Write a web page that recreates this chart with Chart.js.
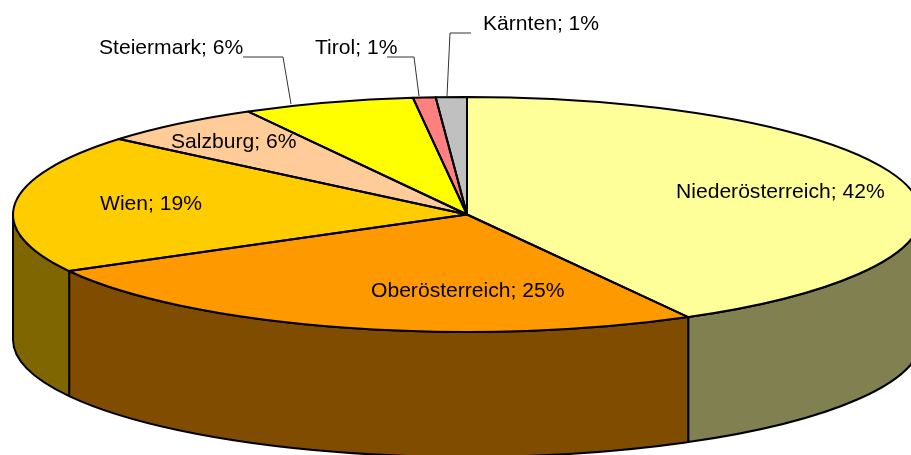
<!DOCTYPE html>
<html><head><meta charset="utf-8">
<script src="https://cdn.jsdelivr.net/npm/chart.js@4/dist/chart.umd.js"></script>
<style>html,body{margin:0;padding:0;background:#fff}canvas{display:block}</style>
</head><body><canvas id="c" width="911" height="455"></canvas>
<script>
const categories = ["Niederösterreich","Oberösterreich","Wien","Salzburg","Steiermark","Tirol","Kärnten"];
const shares = [41.9,25.1,19.1,5.9,6.1,0.8,1.1];
const topColors = ["#FFFF99","#FF9900","#FFCC00","#FFCC99","#FFFF00","#FF8080","#C0C0C0"];
const wallColors = ["#808050","#804D00","#806600","#806633","#808000","#804040","#606060"];
const labelLayout = [
  {x:676,y:198},{x:371,y:297},{x:100,y:210},{x:171,y:148},{x:99,y:54},{x:315,y:54},{x:483,y:30}
];
const leaders = {
  4:[[243,57],[283,57],[291,104]],
  5:[[387,57],[414,57],[419,96]],
  6:[[471,33],[450,33],[447,96]]
};
const view = {cx:467, cy:214.5, rx:454, ry:117.5, depth:125};

function squash(ctx, arc){
  ctx.translate(view.cx, view.cy);
  ctx.scale(view.rx/arc.outerRadius, view.ry/arc.outerRadius);
  ctx.translate(-arc.x, -arc.y);
}
const pie3d = {
  id:'pie3d',
  beforeDatasetsDraw(chart){
    const ctx = chart.ctx, arcs = chart.getDatasetMeta(0).data;
    ctx.lineJoin='round';
    arcs.forEach((arc,i)=>{
      const a=Math.max(arc.startAngle,0), b=Math.min(arc.endAngle,Math.PI);
      if(b<=a) return;
      const r=arc.outerRadius, d=view.depth*r/view.ry;
      ctx.save();
      squash(ctx,arc);
      ctx.beginPath();
      ctx.arc(arc.x,arc.y,r,a,b);
      ctx.arc(arc.x,arc.y+d,r,b,a,true);
      ctx.closePath();
      ctx.restore();
      ctx.fillStyle=wallColors[i];
      ctx.fill();
      ctx.strokeStyle='#000';ctx.lineWidth=2;
      ctx.stroke();
    });
    const first=arcs[0];
    ctx.save();
    squash(ctx,first);
  },
  afterDatasetsDraw(chart){
    const ctx = chart.ctx, arcs = chart.getDatasetMeta(0).data;
    ctx.restore();
    arcs.forEach(arc=>{
      ctx.save();
      squash(ctx,arc);
      ctx.beginPath();
      ctx.moveTo(arc.x,arc.y);
      ctx.arc(arc.x,arc.y,arc.outerRadius,arc.startAngle,arc.endAngle);
      ctx.closePath();
      ctx.restore();
      ctx.strokeStyle='#000';ctx.lineWidth=2;ctx.lineJoin='round';
      ctx.stroke();
    });
    ctx.strokeStyle='#333';ctx.lineWidth=1;
    Object.values(leaders).forEach(pts=>{
      ctx.beginPath();
      pts.forEach((p,k)=>k?ctx.lineTo(p[0],p[1]):ctx.moveTo(p[0],p[1]));
      ctx.stroke();
    });
    ctx.fillStyle='#000';
    ctx.font='21.1px "Liberation Sans", Arial, sans-serif';
    ctx.textBaseline='alphabetic';ctx.textAlign='left';
    categories.forEach((name,i)=>{
      ctx.fillText(name+'; '+Math.round(shares[i])+'%',labelLayout[i].x,labelLayout[i].y);
    });
  }
};
new Chart(document.getElementById('c'),{
  type:'pie',
  data:{labels:categories,datasets:[{data:shares,backgroundColor:topColors,borderWidth:0,clip:false}]},
  options:{responsive:false,animation:false,
    layout:{padding:0},
    plugins:{legend:{display:false},tooltip:{enabled:false},title:{display:false}}},
  plugins:[pie3d]
});
</script></body></html>
